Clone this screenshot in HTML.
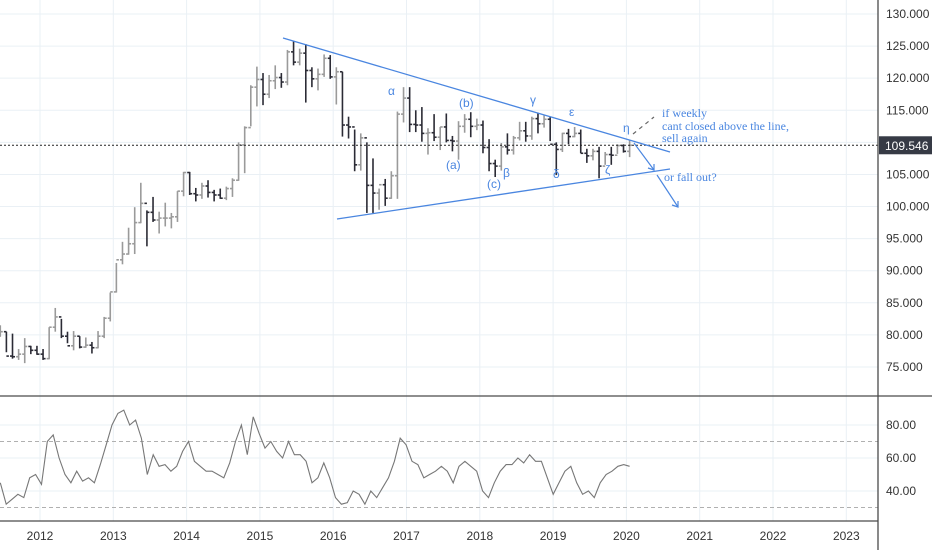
<!DOCTYPE html>
<html><head><meta charset="utf-8"><style>
html,body{margin:0;padding:0;background:#fff;}
svg{display:block;font-family:"Liberation Sans",sans-serif;}
.ann{font-family:"Liberation Serif",serif;fill:#4a86e0;font-size:12px;}
.gl{font-family:"Liberation Sans",sans-serif;fill:#4a86e0;font-size:12px;}
</style></head><body>
<svg id="chart" width="932" height="550" viewBox="0 0 932 550" xmlns="http://www.w3.org/2000/svg">
<g id="grid"></g>
<g id="bars"></g>
<g id="rsi"></g>
<g id="axes"></g>
<g id="drawings">
  <line x1="283" y1="38" x2="670" y2="152" stroke="#4a86e0" stroke-width="1.3"/>
  <line x1="337" y1="219" x2="670" y2="169" stroke="#4a86e0" stroke-width="1.3"/>
  <line x1="633" y1="134" x2="654" y2="117" stroke="#666" stroke-width="1.2" stroke-dasharray="4,4"/>
  <line x1="634" y1="143" x2="654" y2="170" stroke="#4a86e0" stroke-width="1.2"/>
  <polyline points="648,168 654,170 654,164" fill="none" stroke="#4a86e0" stroke-width="1.2"/>
  <line x1="657" y1="175" x2="678" y2="207" stroke="#4a86e0" stroke-width="1.2"/>
  <polyline points="672,205 678,207 678,201" fill="none" stroke="#4a86e0" stroke-width="1.2"/>
  <text class="gl" x="388" y="95">α</text>
  <text class="gl" x="459" y="107">(b)</text>
  <text class="gl" x="530" y="104">γ</text>
  <text class="gl" x="569" y="116">ε</text>
  <text class="gl" x="623" y="132">η</text>
  <text class="gl" x="446" y="169">(a)</text>
  <text class="gl" x="487" y="188">(c)</text>
  <text class="gl" x="503" y="177">β</text>
  <text class="gl" x="553" y="178">δ</text>
  <text class="gl" x="605" y="174">ζ</text>
  <text class="ann" x="662" y="117">if weekly</text>
  <text class="ann" x="662" y="130">cant closed above the line,</text>
  <text class="ann" x="662" y="142">sell again</text>
  <text class="ann" x="664" y="181">or fall out?</text>
</g>
</svg>
<script>
const priceTicks=[130,125,120,115,110,105,100,95,90,85,80,75];
const rsiTicks=[80,60,40];
const yearLabels=["2012","2013","2014","2015","2016","2017","2018","2019","2020","2021","2022","2023"];
// monthly from Jun 2011 to Jan 2020
const highs=[81.5,80.5,80.2,77.8,79.5,78.3,78.3,77.8,81.2,84.2,82.5,80.5,80.6,79.8,79.6,78.9,80.6,82.8,86.6,91.2,94.5,96.7,99.9,103.7,99.4,101.5,99.2,100.6,99.0,102.4,105.4,105.4,102.9,103.7,104.1,102.6,102.8,103.1,104.4,110.0,112.5,118.9,121.8,120.8,120.5,122.0,120.8,124.4,125.8,124.6,125.3,121.7,121.5,123.7,123.6,121.7,121.0,114.0,112.0,111.4,110.0,107.5,102.8,104.3,105.5,114.8,118.6,118.6,115.0,115.5,112.2,114.4,112.4,114.5,111.0,113.3,114.4,114.7,113.7,113.4,110.5,107.3,109.9,111.4,111.0,113.2,113.2,114.0,114.6,114.2,114.0,110.0,111.5,112.1,112.4,112.0,109.0,109.0,109.3,108.5,109.3,109.7,109.7,110.3];
const lows=[79.7,77.3,76.3,76.1,75.6,77.0,76.9,76.1,76.2,80.5,79.5,78.7,77.6,77.9,78.0,77.1,77.9,79.5,82.1,86.6,91.0,92.5,92.6,97.4,93.8,97.6,95.8,96.9,96.6,97.6,101.6,101.8,100.8,101.2,101.4,100.8,101.2,101.0,101.5,104.0,105.2,112.5,115.6,115.8,116.9,118.3,118.5,118.9,122.0,122.0,116.2,118.6,118.1,120.2,119.9,115.9,110.9,110.6,105.5,105.6,99.0,99.0,99.5,100.1,101.2,101.2,113.1,111.6,111.6,110.1,108.1,110.2,108.8,110.0,108.6,107.3,111.5,110.8,111.9,108.3,105.5,104.6,105.6,108.1,108.1,110.3,110.1,110.4,111.4,112.3,110.2,104.9,108.5,109.7,110.8,108.3,106.8,107.2,104.4,106.5,106.5,108.2,108.4,107.7];
const closes=[80.5,76.7,76.6,77.0,78.2,77.6,77.0,76.3,81.2,82.8,79.8,78.3,79.8,78.1,78.4,78.0,79.8,82.6,86.7,91.7,92.6,94.2,97.5,100.5,99.1,97.9,98.2,98.2,98.4,102.4,105.3,102.0,101.8,103.2,102.2,101.8,101.3,102.8,104.1,109.6,112.3,118.6,119.8,117.5,119.6,120.1,119.4,124.1,122.5,123.9,121.2,119.9,120.6,123.1,120.2,121.0,112.7,112.4,106.5,110.7,103.3,102.1,103.4,101.3,104.8,114.4,116.9,112.8,112.7,111.4,111.5,110.8,112.4,110.3,110.2,112.5,113.6,112.5,112.7,109.2,106.7,106.3,109.3,108.8,110.7,111.8,111.0,113.7,112.9,113.6,109.7,108.9,111.4,110.9,111.4,108.3,107.9,108.6,106.3,108.1,108.0,109.5,108.6,109.55];
const rsiVals=[45,32,35,38,36,48,50,44,70,74,60,50,45,52,46,48,45,56,68,80,87,89,80,83,72,50,62,55,56,52,55,64,70,58,55,52,52,50,48,57,70,80,62,85,75,66,70,64,60,70,62,62,58,45,48,57,48,36,32,33,40,38,32,40,36,42,48,58,72,68,58,56,48,50,52,55,52,45,55,58,55,52,40,36,45,52,56,56,60,57,62,58,58,48,38,45,52,55,45,38,40,36,45,50,52,55,56,55];
const lastPrice=109.546;

const NS="http://www.w3.org/2000/svg";
function mk(tag,attrs,parent,text){const e=document.createElementNS(NS,tag);for(const k in attrs)e.setAttribute(k,attrs[k]);if(text!==undefined)e.textContent=text;parent.appendChild(e);return e;}
const AX=878;
function yP(p){return 14+(130-p)*6.418;}
function yR(v){return 425+(80-v)*1.65;}
function xM(i){return 40+(i-6.5)*6.11;}
function xYear(k){return 40+k*73.3;}
const grid=document.getElementById('grid'),axes=document.getElementById('axes'),bars=document.getElementById('bars'),rsi=document.getElementById('rsi');

priceTicks.forEach(p=>{const l=mk('line',{x1:0,x2:AX,y1:yP(p),y2:yP(p),stroke:'#eaf0f5','stroke-width':1},grid);

const t=mk('text',{x:886,y:yP(p)+4,'font-size':12,fill:'#333'},axes,p.toFixed(3));
});
rsiTicks.forEach(v=>{const l=mk('line',{x1:0,x2:AX,y1:yR(v),y2:yR(v),stroke:'#eaf0f5','stroke-width':1},grid);

const t=mk('text',{x:886,y:yR(v)+4,'font-size':12,fill:'#333'},axes,v.toFixed(2));
});
yearLabels.forEach((s,k)=>{const x=xYear(k);
const l=mk('line',{x1:x,x2:x,y1:0,y2:521,stroke:'#eaf0f5','stroke-width':1},grid);

const t=mk('text',{x:x,y:540,'font-size':12,fill:'#333','text-anchor':'middle'},axes,s);
});
[70,30].forEach(v=>{const l=mk('line',{x1:0,x2:AX,y1:yR(v),y2:yR(v),stroke:'#b0b0b0','stroke-dasharray':'4,3'},grid);
});

highs.forEach((h,i)=>{const x=xM(i);const o=i?closes[i-1]:closes[i];const c=closes[i];
const col=c>=o?'#9a9a9a':'#2b2b35';
const g=mk('g',{stroke:col,'stroke-width':1.6},bars);

mk('line',{x1:x,x2:x,y1:yP(h),y2:yP(lows[i])},g);
mk('line',{x1:x-2.5,x2:x,y1:yP(o),y2:yP(o)},g);
mk('line',{x1:x,x2:x+2.5,y1:yP(c),y2:yP(c)},g);});

const n=rsiVals.length;const pts=rsiVals.map((v,j)=>(xM(j*103/(n-1))).toFixed(1)+','+yR(v).toFixed(1)).join(' ');
const rl=mk('polyline',{points:pts,fill:'none',stroke:'#777','stroke-width':1.1},rsi);


const yl=yP(lastPrice);
const dl=mk('line',{x1:0,x2:AX,y1:yl,y2:yl,stroke:'#222','stroke-dasharray':'2,2'},axes);

const bx=mk('rect',{x:AX+1,y:yl-9,width:53,height:18,fill:'#363a45'},axes);

const bt=mk('text',{x:885,y:yl+4.5,'font-size':12,fill:'#fff'},axes,lastPrice.toFixed(3));


[[AX,0,AX,550],[0,396,932,396],[0,521,AX,521]].forEach(a=>{const l=mk('line',{x1:a[0],y1:a[1],x2:a[2],y2:a[3],stroke:'#4a4a4a','stroke-width':1.3},axes);
});
</script>
</body></html>
